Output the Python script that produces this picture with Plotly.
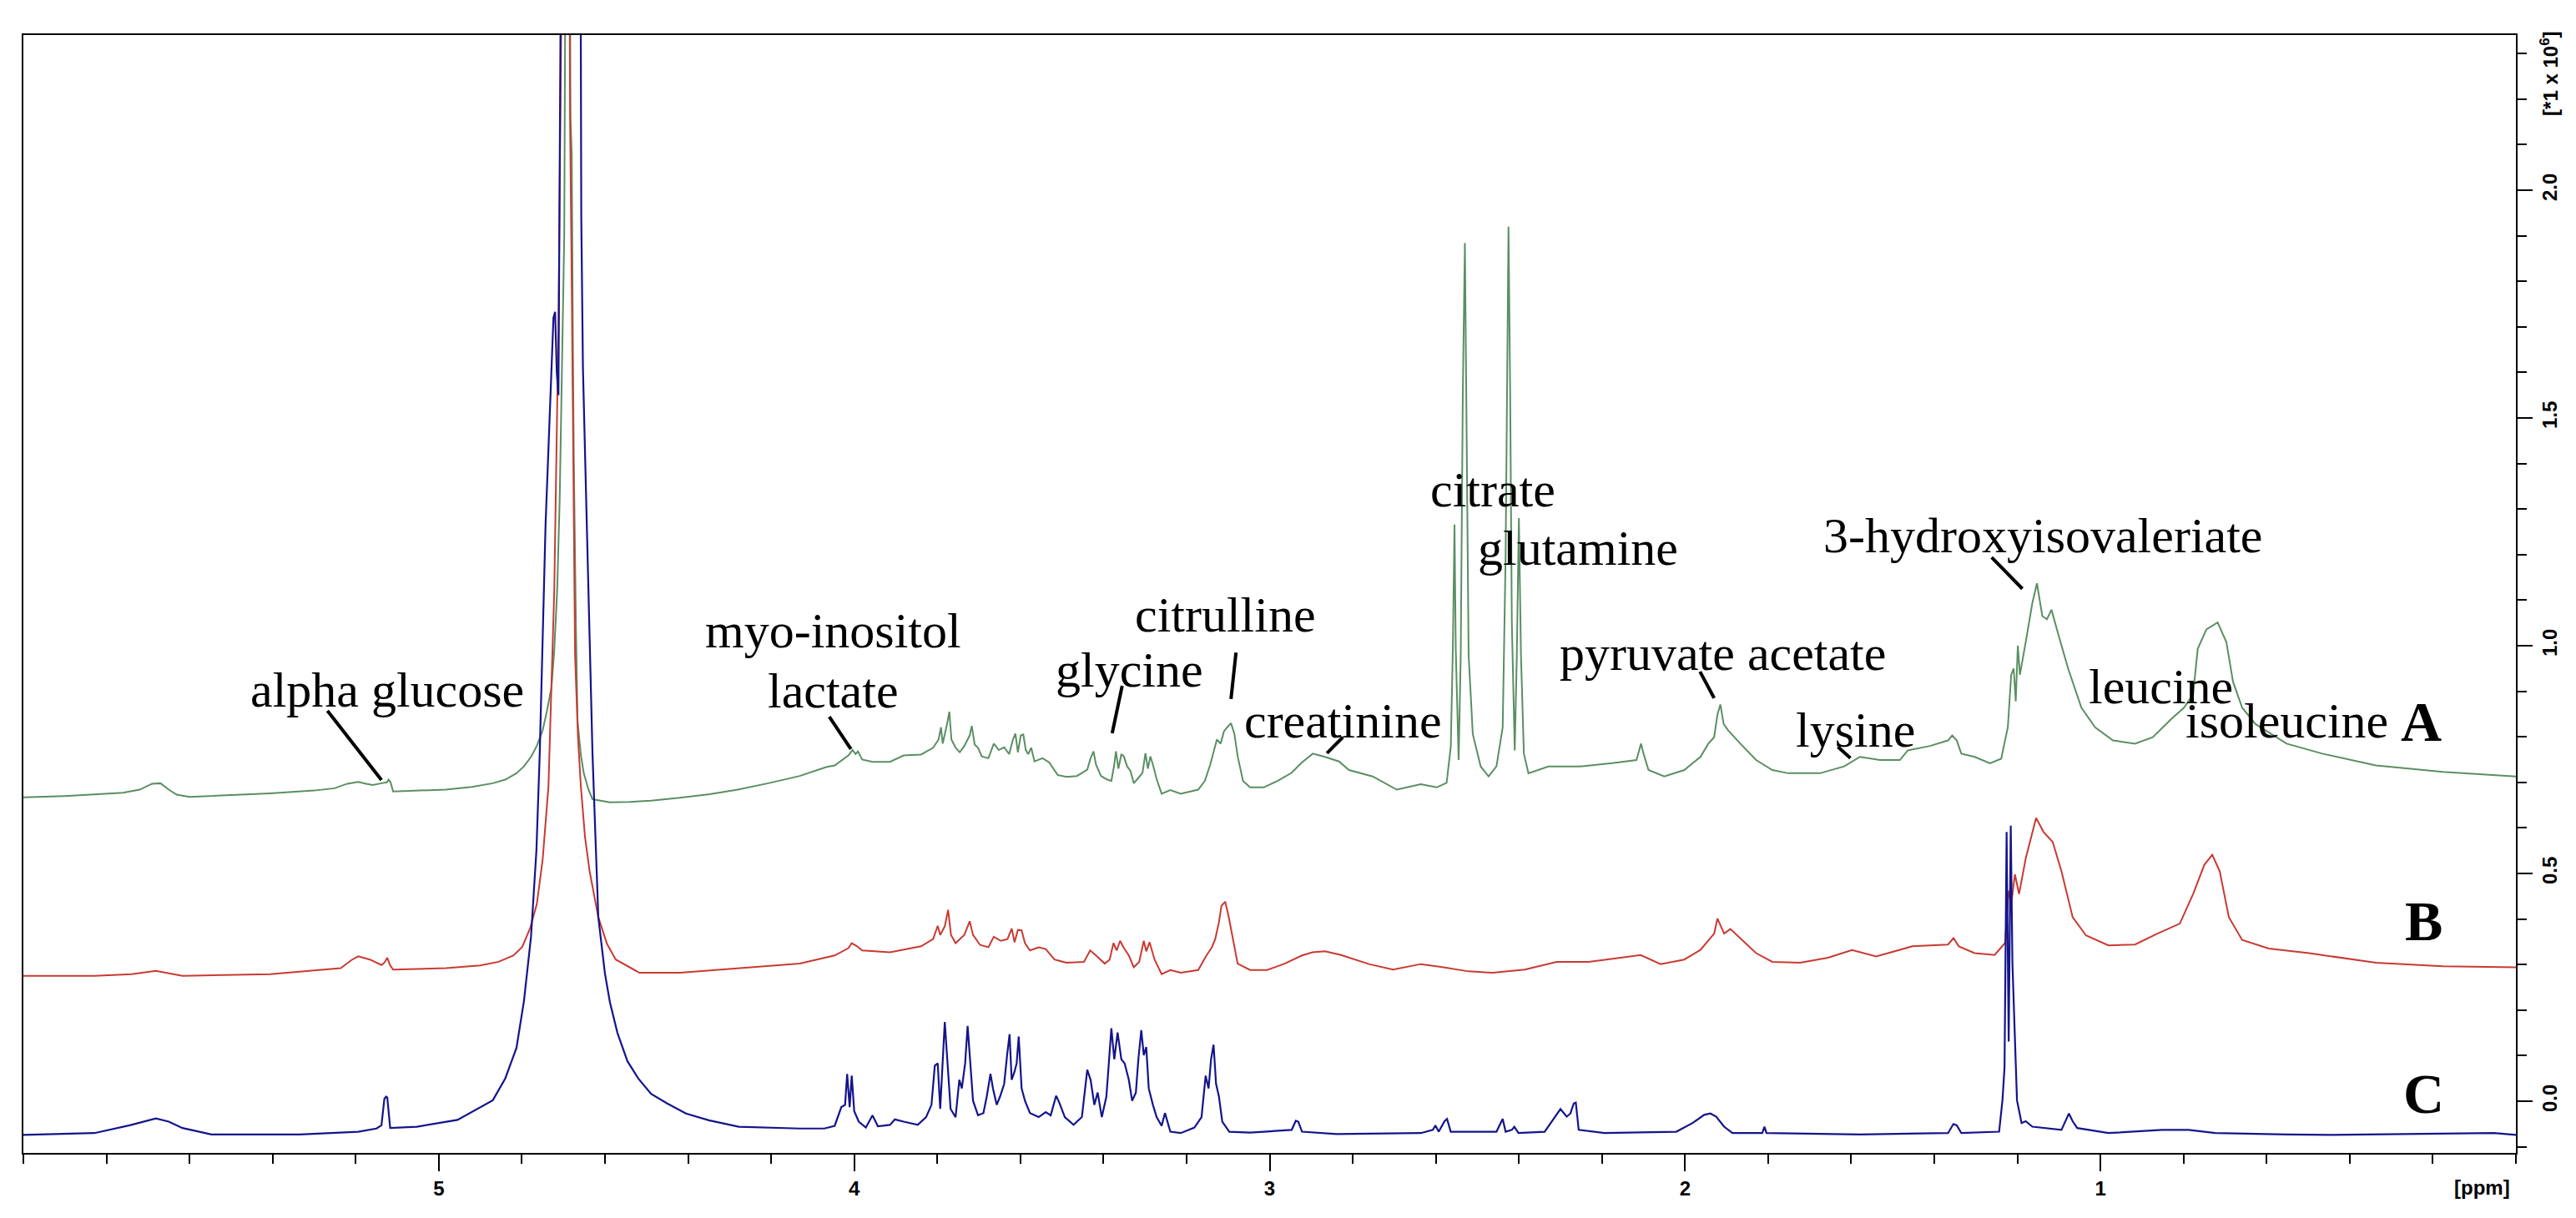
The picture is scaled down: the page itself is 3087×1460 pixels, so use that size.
import plotly.graph_objects as go

# spectrum A (green): chemical shift [ppm] / intensity [*1e6]
ppm_a = [6.000, 5.900, 5.760, 5.720, 5.690, 5.670, 5.650, 5.631, 5.600, 5.500, 5.406, 5.300, 5.251, 5.220,
         5.194, 5.175, 5.159, 5.138, 5.125, 5.121, 5.116, 5.110, 5.050, 4.983, 4.920, 4.870, 4.840, 4.813,
         4.795, 4.778, 4.764, 4.750, 4.740, 4.729, 4.722, 4.715, 4.709, 4.704, 4.698, 4.693, 4.686, 4.683,
         4.680, 4.677, 4.675, 4.670, 4.666, 4.658, 4.651, 4.640, 4.630, 4.588, 4.540, 4.489, 4.420, 4.348,
         4.280, 4.207, 4.131, 4.066, 4.047, 4.014, 4.004, 3.997, 3.991, 3.981, 3.956, 3.914, 3.881, 3.839,
         3.810, 3.797, 3.791, 3.787, 3.781, 3.776, 3.771, 3.766, 3.756, 3.746, 3.735, 3.722, 3.717, 3.710,
         3.702, 3.693, 3.677, 3.664, 3.652, 3.639, 3.627, 3.618, 3.612, 3.606, 3.599, 3.593, 3.587, 3.581,
         3.574, 3.566, 3.547, 3.531, 3.510, 3.489, 3.464, 3.439, 3.431, 3.424, 3.418, 3.406, 3.393, 3.381,
         3.374, 3.370, 3.364, 3.357, 3.351, 3.343, 3.335, 3.327, 3.314, 3.306, 3.299, 3.293, 3.287, 3.281,
         3.272, 3.260, 3.239, 3.214, 3.172, 3.156, 3.143, 3.135, 3.127, 3.118, 3.110, 3.102, 3.093, 3.085,
         3.077, 3.064, 3.047, 3.014, 2.981, 2.947, 2.922, 2.896, 2.867, 2.833, 2.809, 2.752, 2.694, 2.636,
         2.598, 2.574, 2.564, 2.559, 2.555, 2.552, 2.545, 2.540, 2.535, 2.530, 2.527, 2.521, 2.511, 2.492,
         2.473, 2.454, 2.439, 2.432, 2.428, 2.425, 2.421, 2.417, 2.410, 2.405, 2.400, 2.395, 2.388, 2.377,
         2.329, 2.252, 2.175, 2.117, 2.106, 2.100, 2.088, 2.050, 2.002, 1.963, 1.944, 1.930, 1.922, 1.915,
         1.907, 1.896, 1.867, 1.829, 1.790, 1.752, 1.675, 1.617, 1.579, 1.531, 1.483, 1.464, 1.410, 1.367,
         1.357, 1.346, 1.335, 1.303, 1.266, 1.239, 1.223, 1.215, 1.209, 1.204, 1.199, 1.194, 1.180, 1.164,
         1.153, 1.140, 1.129, 1.118, 1.105, 1.078, 1.046, 1.013, 0.970, 0.917, 0.874, 0.831, 0.799, 0.777,
         0.766, 0.745, 0.718, 0.697, 0.681, 0.659, 0.627, 0.552, 0.466, 0.337, 0.176, 0.000]
int_a = [0.667, 0.670, 0.677, 0.684, 0.697, 0.698, 0.684, 0.673, 0.668, 0.672, 0.676, 0.682, 0.687, 0.697,
         0.701, 0.697, 0.694, 0.698, 0.700, 0.706, 0.700, 0.680, 0.682, 0.684, 0.690, 0.698, 0.706, 0.720,
         0.735, 0.756, 0.780, 0.814, 0.855, 0.907, 0.990, 1.122, 1.320, 1.553, 1.900, 3.000, 3.000, 2.160,
         2.080, 1.640, 1.410, 1.050, 0.835, 0.760, 0.720, 0.685, 0.663, 0.656, 0.657, 0.660, 0.666, 0.674,
         0.684, 0.698, 0.714, 0.734, 0.737, 0.759, 0.771, 0.762, 0.768, 0.750, 0.745, 0.745, 0.759, 0.761,
         0.776, 0.794, 0.821, 0.785, 0.807, 0.830, 0.855, 0.794, 0.776, 0.766, 0.780, 0.803, 0.824, 0.783,
         0.776, 0.757, 0.753, 0.785, 0.771, 0.777, 0.762, 0.794, 0.807, 0.766, 0.803, 0.805, 0.771, 0.762,
         0.776, 0.746, 0.753, 0.744, 0.716, 0.712, 0.714, 0.728, 0.753, 0.768, 0.739, 0.714, 0.707, 0.703,
         0.739, 0.768, 0.730, 0.762, 0.757, 0.735, 0.725, 0.698, 0.712, 0.721, 0.764, 0.730, 0.757, 0.739,
         0.707, 0.675, 0.683, 0.675, 0.684, 0.703, 0.739, 0.766, 0.794, 0.785, 0.812, 0.821, 0.830, 0.807,
         0.757, 0.703, 0.689, 0.689, 0.703, 0.721, 0.744, 0.763, 0.756, 0.746, 0.727, 0.713, 0.684, 0.696,
         0.689, 0.699, 0.778, 0.993, 1.266, 0.993, 0.749, 0.979, 1.553, 1.884, 1.553, 0.979, 0.806, 0.735,
         0.713, 0.735, 0.821, 1.194, 1.611, 1.920, 1.553, 1.051, 0.770, 0.979, 1.280, 0.979, 0.763, 0.720,
         0.735, 0.735, 0.742, 0.749, 0.785, 0.763, 0.727, 0.713, 0.727, 0.756, 0.785, 0.799, 0.849, 0.871,
         0.828, 0.814, 0.785, 0.749, 0.727, 0.720, 0.720, 0.735, 0.756, 0.749, 0.749, 0.770, 0.780, 0.792,
         0.803, 0.792, 0.763, 0.756, 0.742, 0.752, 0.821, 0.936, 0.950, 0.878, 1.000, 0.936, 1.008, 1.094,
         1.137, 1.065, 1.058, 1.079, 1.036, 0.950, 0.864, 0.821, 0.792, 0.785, 0.799, 0.838, 0.864, 0.893,
         0.993, 1.036, 1.051, 1.008, 0.921, 0.864, 0.828, 0.785, 0.763, 0.737, 0.723, 0.713]

# spectrum B (red)
ppm_b = [6.000, 5.829, 5.740, 5.681, 5.617, 5.406, 5.236, 5.210, 5.194, 5.166, 5.138, 5.130, 5.124, 5.118,
         5.110, 4.983, 4.900, 4.856, 4.820, 4.799, 4.780, 4.764, 4.750, 4.736, 4.722, 4.712, 4.703, 4.699,
         4.688, 4.684, 4.680, 4.676, 4.672, 4.665, 4.658, 4.648, 4.637, 4.616, 4.595, 4.574, 4.517, 4.419,
         4.300, 4.207, 4.131, 4.047, 4.014, 4.006, 3.993, 3.981, 3.914, 3.839, 3.810, 3.799, 3.793, 3.782,
         3.774, 3.767, 3.756, 3.735, 3.722, 3.714, 3.697, 3.677, 3.664, 3.647, 3.631, 3.621, 3.614, 3.606,
         3.597, 3.589, 3.577, 3.556, 3.539, 3.518, 3.489, 3.447, 3.432, 3.418, 3.397, 3.385, 3.376, 3.368,
         3.360, 3.352, 3.339, 3.327, 3.314, 3.303, 3.297, 3.289, 3.277, 3.260, 3.239, 3.214, 3.172, 3.152,
         3.139, 3.131, 3.122, 3.116, 3.107, 3.099, 3.089, 3.077, 3.047, 3.006, 2.964, 2.922, 2.897, 2.867,
         2.828, 2.761, 2.703, 2.636, 2.588, 2.521, 2.463, 2.386, 2.309, 2.232, 2.155, 2.107, 2.059, 2.002,
         1.963, 1.944, 1.930, 1.922, 1.915, 1.906, 1.891, 1.867, 1.829, 1.790, 1.723, 1.656, 1.598, 1.540,
         1.483, 1.453, 1.367, 1.354, 1.341, 1.303, 1.255, 1.230, 1.221, 1.215, 1.206, 1.196, 1.180, 1.155,
         1.137, 1.115, 1.094, 1.067, 1.035, 0.981, 0.917, 0.863, 0.809, 0.777, 0.750, 0.731, 0.713, 0.691,
         0.659, 0.595, 0.498, 0.337, 0.176, 0.000]
int_b = [0.275, 0.275, 0.279, 0.286, 0.275, 0.279, 0.292, 0.310, 0.318, 0.311, 0.299, 0.305, 0.315, 0.300,
         0.289, 0.292, 0.298, 0.306, 0.320, 0.339, 0.380, 0.433, 0.530, 0.691, 1.122, 1.697, 2.600, 3.200,
         3.200, 2.160, 1.800, 1.400, 0.980, 0.800, 0.691, 0.580, 0.505, 0.404, 0.345, 0.311, 0.282, 0.282,
         0.290, 0.296, 0.302, 0.320, 0.336, 0.347, 0.340, 0.331, 0.327, 0.340, 0.356, 0.385, 0.365, 0.384,
         0.420, 0.365, 0.347, 0.365, 0.395, 0.365, 0.343, 0.338, 0.361, 0.352, 0.356, 0.379, 0.349, 0.376,
         0.375, 0.347, 0.331, 0.338, 0.334, 0.311, 0.304, 0.306, 0.331, 0.320, 0.302, 0.311, 0.347, 0.331,
         0.352, 0.338, 0.320, 0.294, 0.306, 0.352, 0.329, 0.349, 0.311, 0.279, 0.288, 0.282, 0.288, 0.320,
         0.338, 0.356, 0.393, 0.429, 0.438, 0.407, 0.356, 0.302, 0.288, 0.288, 0.302, 0.320, 0.327, 0.329,
         0.321, 0.301, 0.289, 0.301, 0.295, 0.285, 0.282, 0.289, 0.306, 0.306, 0.315, 0.321, 0.301, 0.311,
         0.332, 0.354, 0.368, 0.401, 0.387, 0.368, 0.378, 0.358, 0.325, 0.306, 0.304, 0.315, 0.332, 0.318,
         0.332, 0.340, 0.344, 0.358, 0.340, 0.325, 0.321, 0.347, 0.462, 0.433, 0.498, 0.455, 0.533, 0.622,
         0.591, 0.569, 0.505, 0.404, 0.364, 0.342, 0.344, 0.368, 0.390, 0.455, 0.519, 0.541, 0.505, 0.404,
         0.354, 0.335, 0.325, 0.304, 0.296, 0.294]

# spectrum C (blue)
ppm_c = [6.000, 5.829, 5.744, 5.700, 5.681, 5.650, 5.617, 5.547, 5.335, 5.194, 5.150, 5.138, 5.131, 5.127,
         5.124, 5.117, 5.053, 4.955, 4.870, 4.840, 4.813, 4.795, 4.778, 4.765, 4.757, 4.743, 4.730, 4.724,
         4.720, 4.716, 4.712, 4.708, 4.703, 4.680, 4.660, 4.657, 4.653, 4.646, 4.637, 4.630, 4.616, 4.600,
         4.588, 4.570, 4.546, 4.520, 4.489, 4.450, 4.405, 4.350, 4.278, 4.131, 4.072, 4.047, 4.031, 4.022,
         4.017, 4.011, 4.006, 4.000, 3.989, 3.972, 3.956, 3.943, 3.914, 3.902, 3.881, 3.847, 3.827, 3.814,
         3.806, 3.799, 3.793, 3.787, 3.782, 3.776, 3.768, 3.756, 3.747, 3.741, 3.733, 3.727, 3.721, 3.714,
         3.702, 3.689, 3.681, 3.672, 3.666, 3.657, 3.649, 3.639, 3.632, 3.626, 3.621, 3.614, 3.609, 3.604,
         3.597, 3.589, 3.577, 3.556, 3.539, 3.527, 3.514, 3.506, 3.493, 3.472, 3.452, 3.439, 3.431, 3.422,
         3.414, 3.404, 3.393, 3.387, 3.381, 3.374, 3.366, 3.357, 3.349, 3.339, 3.331, 3.322, 3.316, 3.309,
         3.303, 3.297, 3.291, 3.281, 3.272, 3.260, 3.252, 3.239, 3.214, 3.181, 3.164, 3.154, 3.147, 3.141,
         3.135, 3.129, 3.122, 3.114, 3.097, 3.047, 2.947, 2.937, 2.931, 2.922, 2.839, 2.636, 2.607, 2.601,
         2.593, 2.579, 2.573, 2.564, 2.454, 2.444, 2.439, 2.432, 2.417, 2.411, 2.401, 2.338, 2.319, 2.300,
         2.285, 2.276, 2.268, 2.263, 2.256, 2.194, 2.021, 1.982, 1.954, 1.939, 1.925, 1.906, 1.886, 1.814,
         1.809, 1.804, 1.579, 1.367, 1.354, 1.346, 1.335, 1.244, 1.236, 1.231, 1.226, 1.221, 1.216, 1.212,
         1.206, 1.201, 1.190, 1.180, 1.164, 1.094, 1.083, 1.076, 1.067, 1.056, 0.981, 0.852, 0.788, 0.724,
         0.552, 0.445, 0.053, 0.000]
int_c = [-0.074, -0.070, -0.053, -0.042, -0.038, -0.045, -0.059, -0.073, -0.073, -0.067, -0.060, -0.053,
         0.005, 0.010, 0.008, -0.059, -0.056, -0.041, 0.002, 0.050, 0.117, 0.220, 0.361, 0.550, 0.763, 1.266,
         1.600, 1.720, 1.733, 1.600, 1.550, 1.990, 3.000, 4.000, 3.000, 1.940, 1.610, 1.350, 1.000, 0.763,
         0.404, 0.280, 0.217, 0.150, 0.088, 0.050, 0.016, -0.005, -0.027, -0.042, -0.056, -0.060, -0.060,
         -0.054, -0.013, -0.008, 0.060, -0.013, 0.056, -0.022, -0.045, -0.058, -0.031, -0.055, -0.052, -0.040,
         -0.045, -0.052, -0.035, -0.008, 0.078, 0.083, -0.017, 0.092, 0.174, 0.092, -0.017, -0.035, 0.047,
         0.028, 0.083, 0.165, 0.083, 0.001, -0.031, -0.026, 0.010, 0.060, 0.028, -0.008, 0.010, 0.038, 0.101,
         0.147, 0.047, 0.065, 0.083, 0.142, 0.028, 0.001, -0.026, -0.035, -0.024, -0.031, 0.012, -0.004,
         -0.035, -0.052, -0.035, 0.069, 0.047, -0.008, 0.019, -0.035, 0.010, 0.083, 0.160, 0.092, 0.151,
         0.092, 0.083, 0.047, 0.001, 0.019, 0.092, 0.156, 0.101, 0.119, 0.028, -0.008, -0.035, -0.054, -0.026,
         -0.067, -0.070, -0.058, -0.035, 0.056, 0.028, 0.092, 0.124, 0.038, 0.010, -0.045, -0.067, -0.069,
         -0.063, -0.043, -0.045, -0.067, -0.072, -0.070, -0.063, -0.053, -0.067, -0.044, -0.039, -0.067,
         -0.067, -0.048, -0.039, -0.067, -0.063, -0.056, -0.070, -0.067, -0.041, -0.017, -0.034, -0.027,
         -0.005, -0.003, -0.063, -0.070, -0.067, -0.048, -0.030, -0.027, -0.034, -0.056, -0.070, -0.070,
         -0.056, -0.070, -0.073, -0.070, -0.050, -0.053, -0.070, -0.067, 0.002, 0.074, 0.591, 0.131, 0.605,
         0.303, 0.138, 0.002, -0.048, -0.044, -0.056, -0.063, -0.041, -0.027, -0.044, -0.059, -0.070, -0.063,
         -0.063, -0.070, -0.073, -0.074, -0.070, -0.074]

# metabolite labels: text, ppm, intensity of the label centre
labels = [
    ("alpha glucose", 5.124, 0.903),
    ("myo-inositol", 4.050, 1.033),
    ("lactate", 4.050, 0.901),
    ("glycine", 3.337, 0.947),
    ("citrulline", 3.106, 1.068),
    ("creatinine", 2.823, 0.835),
    ("citrate", 2.462, 1.342),
    ("glutamine", 2.257, 1.214),
    ("pyruvate acetate", 1.909, 0.984),
    ("lysine", 1.589, 0.815),
    ("3-hydroxyisovaleriate", 1.138, 1.242),
    ("leucine", 0.855, 0.910),
    ("isoleucine", 0.552, 0.835),
]
# pointer lines: (ppm0, int0, ppm1, int1)
pointers = [
    (5.268, 0.857, 5.138, 0.705),
    (4.060, 0.844, 4.008, 0.773),
    (3.355, 0.912, 3.379, 0.808),
    (3.081, 0.985, 3.093, 0.883),
    (2.824, 0.799, 2.862, 0.764),
    (1.964, 0.943, 1.930, 0.885),
    (1.632, 0.778, 1.602, 0.753),
    (1.262, 1.194, 1.188, 1.125),
]
# sample letters
letters = [("A", 0.229, 0.834), ("B", 0.221, 0.396), ("C", 0.221, 0.016)]

fig = go.Figure()
fig.add_trace(go.Scatter(x=ppm_a, y=int_a, mode="lines", name="A",
                         line=dict(color="#5a8f62", width=2)))
fig.add_trace(go.Scatter(x=ppm_b, y=int_b, mode="lines", name="B",
                         line=dict(color="#c83a32", width=2)))
fig.add_trace(go.Scatter(x=ppm_c, y=int_c, mode="lines", name="C",
                         line=dict(color="#14148c", width=2.2)))

serif = dict(family="Liberation Serif", size=60, color="black")
for text, px_, py_ in labels:
    fig.add_annotation(x=px_, y=py_, text=text, showarrow=False,
                       xanchor="center", yanchor="middle", font=serif)
for text, px_, py_ in letters:
    fig.add_annotation(x=px_, y=py_, text=text, showarrow=False,
                       xanchor="center", yanchor="middle",
                       font=dict(family="Liberation Serif", size=68, color="black", weight="bold"))
for x0, y0, x1, y1 in pointers:
    fig.add_shape(type="line", x0=x0, y0=y0, x1=x1, y1=y1, xref="x", yref="y",
                  line=dict(color="black", width=4))

tick_font = dict(family="Liberation Sans", size=24, color="black", weight="bold")
fig.add_annotation(xref="paper", yref="paper", x=0.9983, y=-0.0306, text="[ppm]",
                   showarrow=False, xanchor="right", yanchor="middle", font=tick_font)
fig.add_annotation(xref="paper", yref="paper", x=1.0134, y=0.965, text="[*1 x 10<sup>6</sup>]",
                   showarrow=False, xanchor="center", yanchor="middle", textangle=-90, font=tick_font)

fig.update_xaxes(
    range=[6.0, 0.0], showgrid=False, zeroline=False,
    showline=True, mirror=True, linecolor="black", linewidth=2,
    ticks="outside", ticklen=20, tickwidth=2, tickcolor="black",
    tickmode="array", tickvals=[1, 2, 3, 4, 5], ticktext=["1", "2", "3", "4", "5"],
    tickfont=tick_font,
    minor=dict(tickmode="linear", tick0=0, dtick=0.2, ticks="outside", ticklen=11,
               tickwidth=2, tickcolor="black", showgrid=False),
)
fig.update_yaxes(
    range=[-0.1136, 2.3407], side="right", showgrid=False, zeroline=False,
    showline=True, mirror=True, linecolor="black", linewidth=2,
    ticks="outside", ticklen=18, tickwidth=2, tickcolor="black",
    tickmode="array", tickvals=[0, 0.5, 1.0, 1.5, 2.0], ticktext=["0.0", "0.5", "1.0", "1.5", "2.0"],
    tickangle=-90, tickfont=tick_font,
    minor=dict(tickmode="linear", tick0=0, dtick=0.1, ticks="outside", ticklen=11,
               tickwidth=2, tickcolor="black", showgrid=False),
)
fig.update_layout(
    width=3087, height=1460, autosize=False,
    margin=dict(l=20, r=80, t=34, b=86),
    plot_bgcolor="white", paper_bgcolor="white",
    showlegend=False,
)

fig.write_html("out.html")
